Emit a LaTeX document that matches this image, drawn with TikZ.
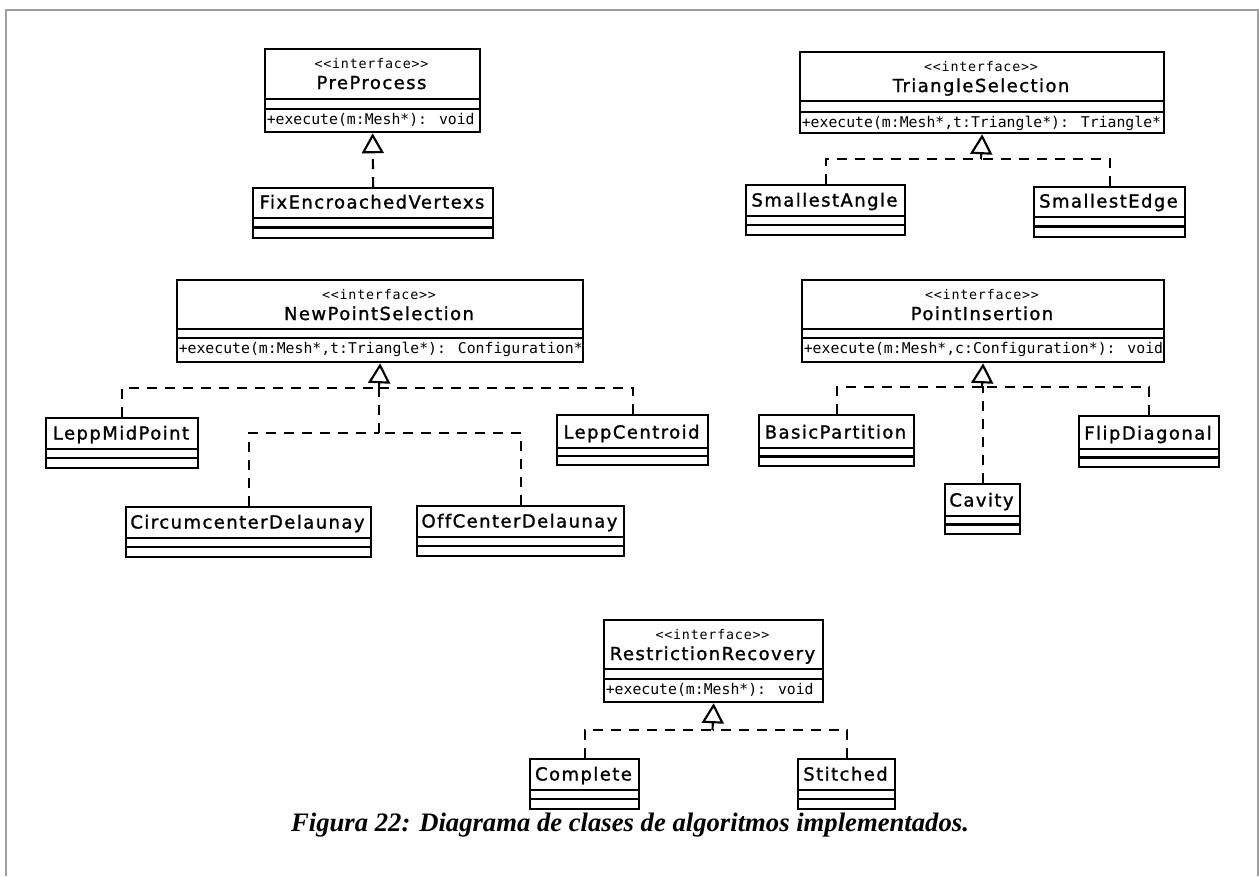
\documentclass[tikz,border=0pt]{standalone}
\usepackage{fontspec}
\setmainfont{Liberation Serif}
\newfontfamily\namefont[LetterSpace=8,Ligatures=NoCommon,FakeBold=1.3]{DejaVu Sans}
\newfontfamily\opfont[Ligatures=TeXOff]{DejaVu Sans Mono}
\newfontfamily\stereofont[LetterSpace=6,Ligatures=TeXOff]{DejaVu Sans Mono}
\usetikzlibrary{arrows.meta}

\tikzset{
  frame/.style={draw, line width=1.7pt, inner sep=0pt, anchor=north west},
  divider/.style={line width=1.7pt},
  stereo/.style={font=\stereofont\fontsize{10}{12}\selectfont, anchor=base, inner sep=0pt},
  cname/.style={font=\namefont\fontsize{13.5}{16}\selectfont, anchor=base, inner sep=0pt},
  oper/.style={font=\opfont\fontsize{11.1}{13}\selectfont, anchor=base west, inner sep=0pt},
  realize/.style={line width=1.6pt, dash pattern=on 7.5pt off 6pt},
  realtip/.style={realize, -{Triangle[open, length=15pt, width=16.5pt, line width=1.6pt]}},
  pageframe/.style={line width=1.5pt, draw=black!38},
  caption/.style={font=\fontsize{20}{24}\selectfont\bfseries\itshape, anchor=base, inner sep=0pt}
}

% interface box: name, left, top, right, bottom, divider 1, divider 2, title, operation
\newcommand\ifacebox[9]{%
  \node[frame, minimum width={(#4-#2)*0.75pt}, minimum height={(#5-#3)*0.75pt}] (#1) at (#2,#3) {};
  \draw[divider] (#2,#6) -- (#4,#6);
  \draw[divider] (#2,#7) -- (#4,#7);
  \node[stereo] (#1-st) at ({(#2+#4)/2},#3+20) {<<interface>>};
  \node[cname] (#1-nm) at ({(#2+#4)/2},#3+41) {#8};
  \node[oper] (#1-op) at (#2+2.5,#7+15.5) {#9};
}
% class box: name, left, top, right, bottom, name divider, title
\newcommand\classbox[7]{%
  \node[frame, minimum width={(#4-#2)*0.75pt}, minimum height={(#5-#3)*0.75pt}] (#1) at (#2,#3) {};
  \draw[divider] (#2,#6) -- (#4,#6);
  \draw[divider] (#2,{(#6+#5)/2}) -- (#4,{(#6+#5)/2});
  \node[cname] (#1-nm) at ({(#2+#4)/2},#6-9.5) {#7};
}

\begin{document}
\begin{tikzpicture}[x=0.75pt,y=-0.75pt]
\useasboundingbox (0,0) rectangle (1259,876);
\draw[pageframe] (6,876) -- (6,10) -- (1257.5,10) -- (1257.5,876);

% pre-processing
\ifacebox{pp}{264}{48}{479}{131}{99}{109}{PreProcess}{+execute(m:Mesh*): void}
\classbox{fix}{252}{187}{492}{237}{218}{FixEncroachedVertexs}
\draw[realtip] (fix.north) -- (pp.south);

% triangle selection
\ifacebox{ts}{799}{51}{1163}{132}{101}{112}{TriangleSelection}{+execute(m:Mesh*,t:Triangle*): Triangle*}
\classbox{sa}{745}{184}{904}{234}{216}{SmallestAngle}
\classbox{se}{1033}{186}{1184}{236}{217}{SmallestEdge}
\coordinate (tshub) at (981,159);
\draw[realize] (sa.north) |- (tshub);
\draw[realize] (se.north) |- (tshub);
\draw[realtip] (tshub) -- (ts.south);

% new point selection
\ifacebox{np}{176}{279}{582}{361}{329}{338}{NewPointSelection}{+execute(m:Mesh*,t:Triangle*): Configuration*}
\classbox{lmp}{45}{417}{197}{467}{449}{LeppMidPoint}
\classbox{lc}{556}{414}{707}{464}{448}{LeppCentroid}
\classbox{cd}{125}{506}{370}{556}{538}{CircumcenterDelaunay}
\classbox{ocd}{416}{505}{623}{555}{537}{OffCenterDelaunay}
\coordinate (nphub) at (379,388);
\coordinate (nphublow) at (379,433);
\draw[realize] (lmp.north) |- (nphub);
\draw[realize] (lc.north) |- (nphub);
\draw[realize] (cd.north) |- (nphublow);
\draw[realize] (ocd.north) |- (nphublow);
\draw[realize] (nphublow) -- (nphub);
\draw[realtip] (nphub) -- (np.south);

% point insertion
\ifacebox{pi}{801}{279}{1163}{361}{329}{338}{PointInsertion}{+execute(m:Mesh*,c:Configuration*): void}
\classbox{bp}{758}{414}{913}{465}{448}{BasicPartition}
\classbox{fd}{1078}{415}{1218}{466}{449}{FlipDiagonal}
\classbox{cav}{944}{483}{1019}{533}{516}{Cavity}
\coordinate (pihub) at (982,387);
\draw[realize] (bp.north) |- (pihub);
\draw[realize] (fd.north) |- (pihub);
\draw[realize] (cav.north) |- (pihub);
\draw[realtip] (pihub) -- (pi.south);

% restriction recovery
\ifacebox{rr}{603}{619}{822}{701}{669}{679}{RestrictionRecovery}{+execute(m:Mesh*): void}
\classbox{comp}{529}{758}{638}{808}{790}{Complete}
\classbox{sti}{797}{758}{894}{808}{790}{Stitched}
\coordinate (rrhub) at (712.5,730);
\draw[realize] (comp.north) |- (rrhub);
\draw[realize] (sti.north) |- (rrhub);
\draw[realtip] (rrhub) -- (rr.south);

\node[caption] (cap) at (630,831) {Figura 22: Diagrama de clases de algoritmos implementados.};
\end{tikzpicture}
\end{document}
